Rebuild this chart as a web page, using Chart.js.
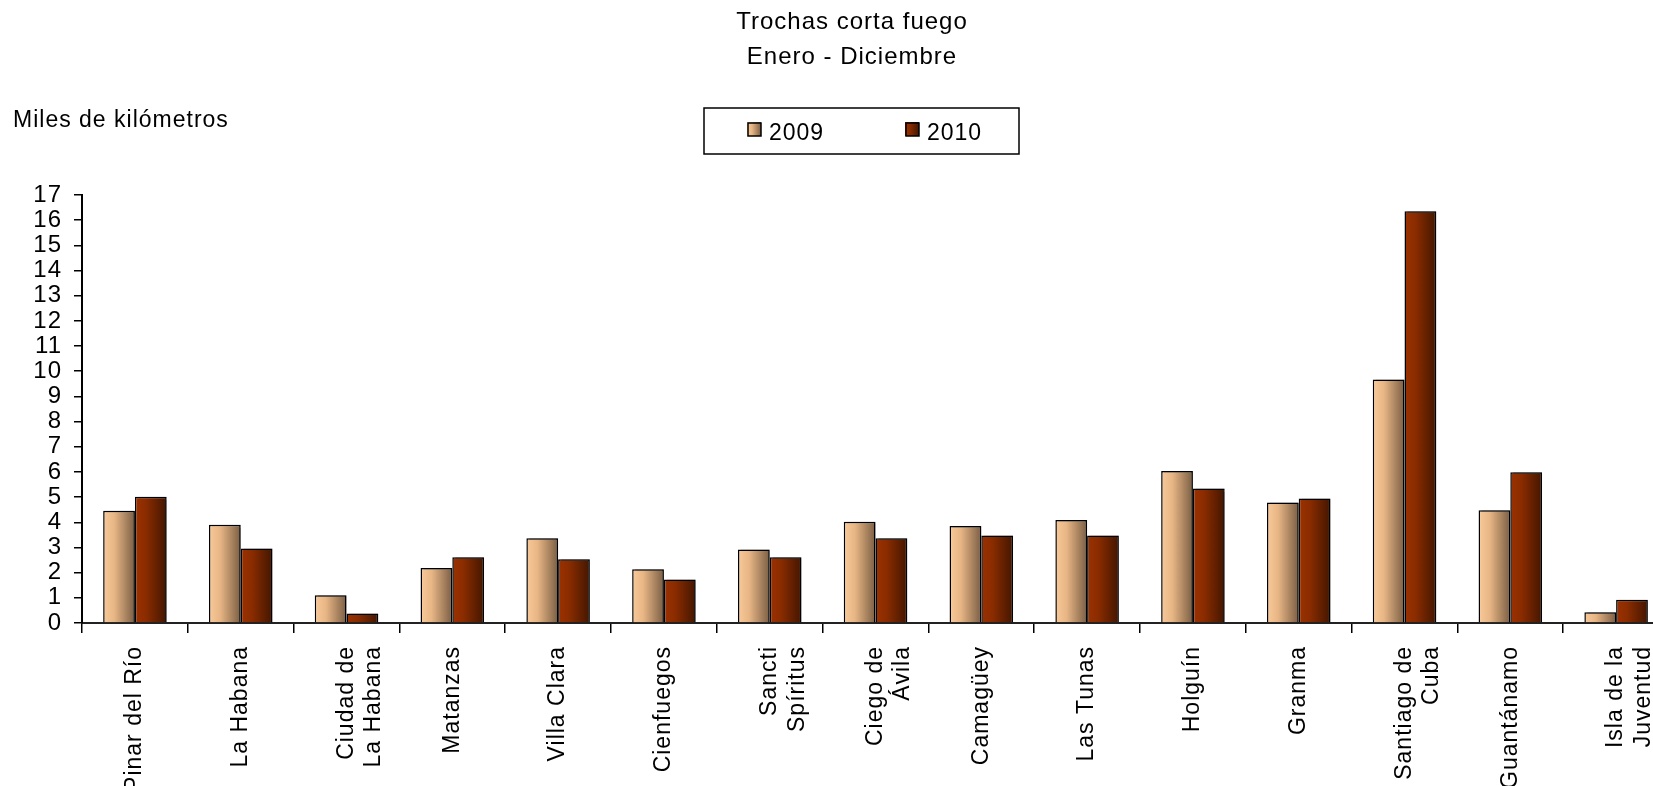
<!DOCTYPE html>
<html>
<head>
<meta charset="utf-8">
<script src="https://cdn.jsdelivr.net/npm/chart.js@4.4.1/dist/chart.umd.min.js"></script>
<style>
  html, body { margin: 0; padding: 0; background: #fff; overflow: hidden; }
  #wrap { width: 1704px; height: 786px; }
</style>
</head>
<body>
<div id="wrap"><canvas id="myChart" width="1704" height="786"></canvas></div>
<script>
// provincias (las de dos líneas van como arrays)
const provincias = [
    ["Pinar del Río"], ["La Habana"], ["Ciudad de", "La Habana"], ["Matanzas"],
    ["Villa Clara"], ["Cienfuegos"], ["Sancti", "Spíritus"], ["Ciego de", "Ávila"],
    ["Camagüey"], ["Las Tunas"], ["Holguín"], ["Granma"], ["Santiago de", "Cuba"],
    ["Guantánamo"], ["Isla de la", "Juventud"]
];
const years = ["2009", "2010"];
const km2009 = [4.46, 3.90, 1.10, 2.18, 3.37, 2.13, 2.92, 4.02, 3.85, 4.09, 6.04, 4.79, 9.67, 4.48, 0.43];
const km2010 = [5.01, 2.96, 0.38, 2.61, 2.53, 1.73, 2.61, 3.37, 3.48, 3.48, 5.34, 4.95, 16.35, 5.99, 0.92];
const yTicks = [0, 17];   // min / max del eje

const titleLines = ["Trochas corta fuego", "Enero - Diciembre"];
const unitLabel = "Miles de kilómetros";

const FONT = "'Liberation Sans', Arial, sans-serif";
const catPct = 0.6;

// colores del degradado de cada serie (izquierda -> derecha)
const stops = [
    [[0, "#f9c999"], [0.35, "#e8b685"], [1, "#7a5e44"]],
    [[0, "#9c3100"], [0.35, "#8a2c00"], [1, "#431600"]]
];

function makeGrad(ctx, left, width, ds) {
    const g = ctx.createLinearGradient(left, 0, left + width, 0);
    stops[ds].forEach(function(s) { g.addColorStop(s[0], s[1]); });
    return g;
}

function barFill(c) {
    const chart = c.chart;
    const xs = chart.scales.x;
    const solid = stops[c.datasetIndex][1][1];
    if (!xs || c.dataIndex === undefined) return solid;
    const center = xs.getPixelForValue(c.dataIndex);
    const barW = (xs.width / provincias.length) * catPct / 2;
    if (!isFinite(center) || !isFinite(barW) || barW <= 0) return solid;
    const left = c.datasetIndex === 0 ? center - barW : center;
    return makeGrad(chart.ctx, left, barW, c.datasetIndex);
}

// textos, leyenda con marco y sombra de las barras
const extras = {
    id: "extras",
    beforeDraw: function(chart) {
        chart.ctx.letterSpacing = "1px";
    },
    beforeDatasetsDraw: function(chart) {
        const ctx = chart.ctx;
        ctx.save();
        ctx.shadowColor = "rgba(0,0,0,0.35)";
        ctx.shadowOffsetX = 3;
        ctx.shadowOffsetY = 0;
        ctx.shadowBlur = 1;
    },
    afterDatasetsDraw: function(chart) {
        chart.ctx.restore();
    },
    afterDraw: function(chart) {
        const ctx = chart.ctx;
        ctx.save();
        ctx.letterSpacing = "1px";
        ctx.fillStyle = "#000";
        ctx.textBaseline = "alphabetic";

        // título
        ctx.font = "24px " + FONT;
        ctx.textAlign = "center";
        ctx.fillText(titleLines[0], 852, 29);
        ctx.fillText(titleLines[1], 852, 64);

        // unidad
        ctx.font = "23px " + FONT;
        ctx.textAlign = "left";
        ctx.fillText(unitLabel, 13, 127);

        // leyenda
        ctx.strokeStyle = "#000";
        ctx.lineWidth = 1.5;
        ctx.strokeRect(704, 108, 315, 46);
        const sx = [747, 905];
        years.forEach(function(y, i) {
            ctx.fillStyle = makeGrad(ctx, sx[i], 14, i);
            ctx.fillRect(sx[i], 122, 14, 14);
            ctx.strokeStyle = "#000";
            ctx.lineWidth = 1.5;
            ctx.strokeRect(sx[i] + 1, 123, 13, 13);
            ctx.fillStyle = "#000";
            ctx.fillText(y, sx[i] + 22, 140);
        });
        ctx.restore();
    }
};

const ctx = document.getElementById("myChart").getContext("2d");

const data = {
    labels: provincias,
    datasets: [
        {
            label: years[0],
            data: km2009,
            backgroundColor: barFill,
            borderColor: "#000",
            borderWidth: 1.5,
            categoryPercentage: catPct,
            barPercentage: 1.0
        },
        {
            label: years[1],
            data: km2010,
            backgroundColor: barFill,
            borderColor: "#000",
            borderWidth: 1.5,
            categoryPercentage: catPct,
            barPercentage: 1.0
        }
    ]
};

const config = {
    type: "bar",
    data: data,
    options: {
        responsive: false,
        animation: false,
        layout: { padding: { top: 195, right: 35, left: 0, bottom: 0 } },
        plugins: {
            legend: { display: false },
            title: { display: false },
            tooltip: { enabled: false }
        },
        scales: {
            x: {
                afterFit: function(scale) { scale.height = 163; },
                grid: { display: true, drawOnChartArea: false, drawTicks: true, tickLength: 10, color: "#000", lineWidth: 1.5 },
                border: { display: true, color: "#222", width: 2 },
                ticks: {
                    autoSkip: false,
                    maxRotation: 90,
                    minRotation: 90,
                    padding: 13,
                    color: "#000",
                    font: { family: FONT, size: 23 }
                }
            },
            y: {
                min: yTicks[0],
                max: yTicks[1],
                afterFit: function(scale) { scale.width = 82; },
                grid: { display: true, drawOnChartArea: false, drawTicks: true, tickLength: 8, color: "#000", lineWidth: 1.5 },
                border: { display: true, color: "#000", width: 2 },
                ticks: {
                    stepSize: 1,
                    autoSkip: false,
                    padding: 12,
                    color: "#000",
                    font: { family: FONT, size: 24 }
                }
            }
        }
    },
    plugins: [extras]
};

const myChart = new Chart(ctx, config);
</script>
</body>
</html>
